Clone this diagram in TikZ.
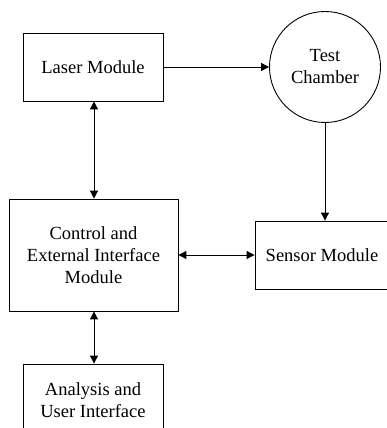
\documentclass[tikz,border=0pt]{standalone}
\usepackage{fontspec}
\setmainfont{Liberation Serif}
\usetikzlibrary{arrows.meta}
\begin{document}
\begin{tikzpicture}[x=1pt,y=-1pt,
  box/.style={draw,line width=0.9pt,inner sep=0pt,align=center,font=\fontsize{18.5}{22}\selectfont},
  conn/.style={line width=1pt,-{Triangle[length=8pt,width=8pt]}},
  both/.style={line width=1pt,{Triangle[length=8pt,width=8pt]}-{Triangle[length=8pt,width=8pt]}}]
\useasboundingbox (0,0) rectangle (387,428);
\node[box,minimum width=140pt,minimum height=68pt] (laser) at (93,67) {Laser Module};
\node[box,circle,minimum size=111pt] (test) at (325,67) {Test\\Chamber};
\node[box,minimum width=169pt,minimum height=112pt] (ctrl) at (93.5,255) {Control and\\External Interface\\Module};
\node[box,minimum width=134pt,minimum height=68pt] (sensor) at (322,255) {Sensor Module};
\node[box,minimum width=140pt,minimum height=72pt] (ana) at (93,400) {Analysis and\\User Interface};
\draw[conn] (laser) -- (test);
\draw[conn] (test.south) -- (test.south |- sensor.north);
\draw[both] (laser.south -| 94,0) -- (ctrl.north -| 94,0);
\draw[both] (ctrl) -- (sensor);
\draw[both] (ctrl.south -| 94,0) -- (ana.north -| 94,0);
\end{tikzpicture}
\end{document}
